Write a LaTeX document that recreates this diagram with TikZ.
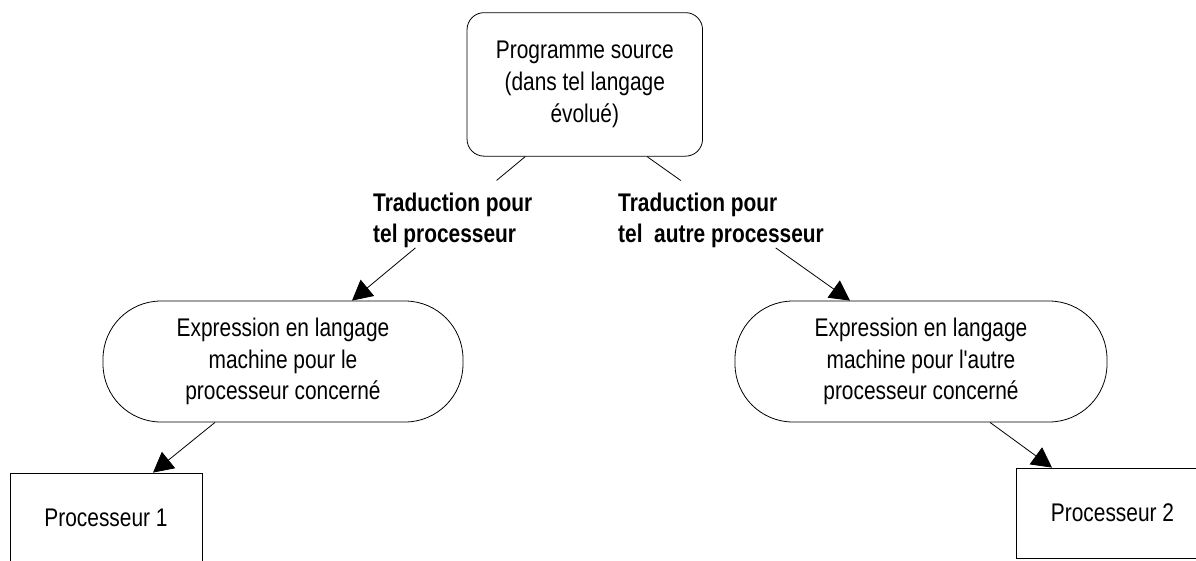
\documentclass[tikz,border=0pt]{standalone}
\usepackage{fontspec}
\setmainfont{Liberation Sans}[FakeStretch=0.82,Ligatures=TeXOff]
\usetikzlibrary{arrows.meta,calc}
\begin{document}
\begin{tikzpicture}[x=1pt,y=-1pt,
  txt/.style={font=\fontsize{25.5pt}{31.7pt}\selectfont, align=center, inner sep=0pt},
  box/.style={draw, line width=0.8pt, txt},
  lab/.style={font=\fontsize{25.5pt}{31pt}\selectfont\bfseries, align=left, inner sep=0pt},
  conn/.style={draw, line width=0.8pt},
  tip/.style={-{Triangle[length=20pt,width=21pt]}}]
\useasboundingbox (0,0) rectangle (1196,560);
\node[box, rounded corners=17pt, minimum width=235.5pt, minimum height=143.5pt] (src) at (584.8,84.4) {Programme source\\(dans tel langage\\évolué)};
\node[box, rounded corners=58pt, minimum width=360pt, minimum height=121pt] (mL) at (283,361.5) {Expression en langage\\machine pour le\\processeur concerné};
\node[box, rounded corners=58pt, minimum width=372pt, minimum height=121pt] (mR) at (921,361.5) {Expression en langage\\machine pour l'autre\\processeur concerné};
\node[box, minimum width=192pt, minimum height=90pt] (p1) at (106,518) {Processeur 1};
\node[box, minimum width=193pt, minimum height=90pt] (p2) at (1112.5,513) {Processeur 2};
\node[lab, anchor=west] (lL) at (373,220.6) {Traduction pour\\tel processeur};
\node[lab, anchor=west] (lR) at (618,220.6) {Traduction pour\\tel\ \ autre processeur};
\coordinate (a1) at ([xshift=-59.5pt]src.south);
\coordinate (b1) at ([xshift=69pt]mL.north);
\coordinate (a2) at ([xshift=62.2pt]src.south);
\coordinate (b2) at ([xshift=-71pt]mR.north);
\coordinate (c1) at ([xshift=-68pt]mL.south);
\coordinate (d1) at ([xshift=47pt]p1.north);
\coordinate (c2) at ([xshift=69pt]mR.south);
\coordinate (d2) at ([xshift=-60.5pt]p2.north);
\draw[conn] (a1) -- ($(a1)!0.166!(b1)$);
\draw[conn, tip] ($(a1)!0.634!(b1)$) -- (b1);
\draw[conn] (a2) -- ($(a2)!0.166!(b2)$);
\draw[conn, tip] ($(a2)!0.634!(b2)$) -- (b2);
\draw[conn, tip] (c1) -- (d1);
\draw[conn, tip] (c2) -- (d2);
\end{tikzpicture}
\end{document}
